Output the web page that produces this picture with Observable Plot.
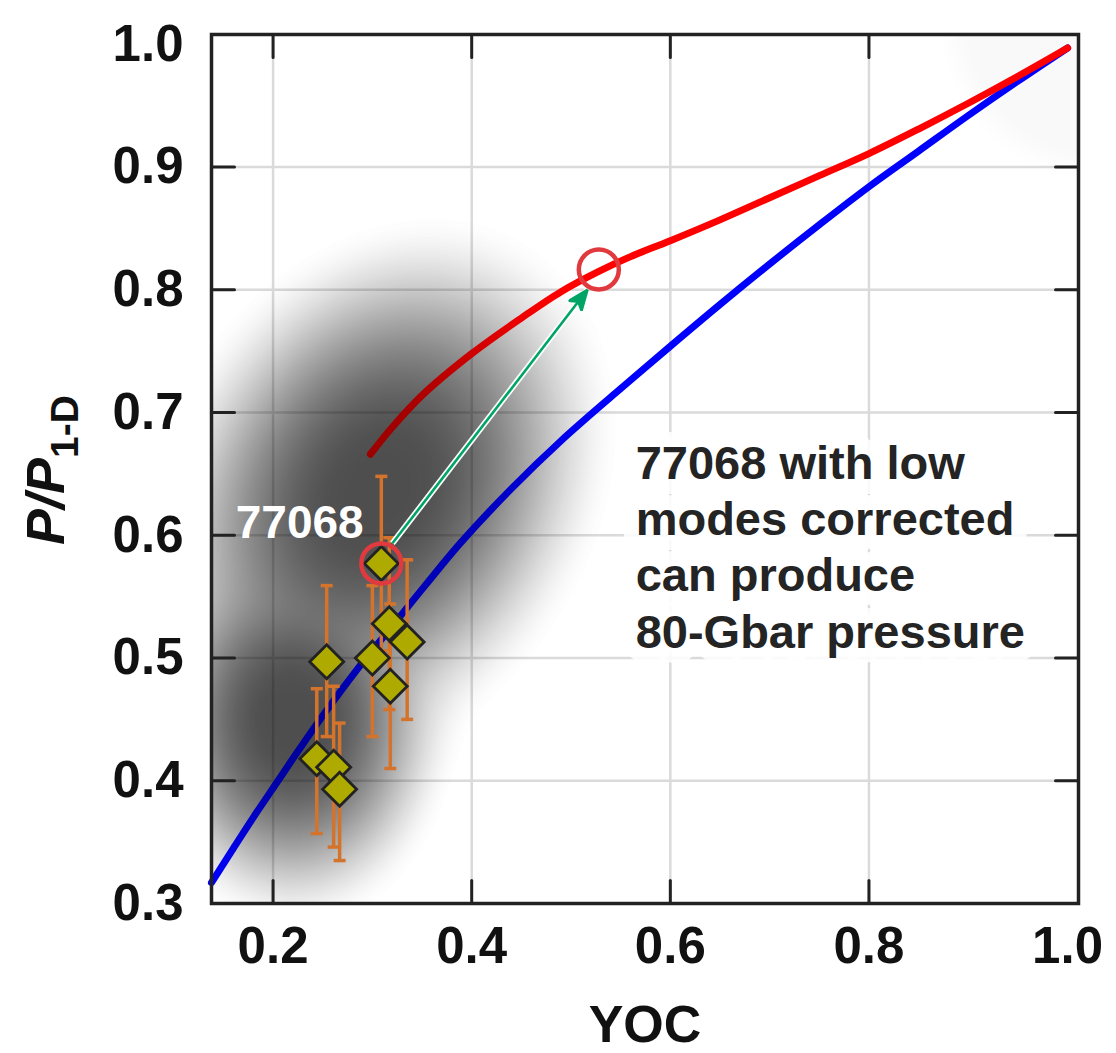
<!DOCTYPE html>
<html>
<head>
<meta charset="utf-8">
<script src="https://cdn.jsdelivr.net/npm/d3@7"></script>
<script src="https://cdn.jsdelivr.net/npm/@observablehq/plot@0.6"></script>
<style>
  body { margin: 0; background: #fff; }
</style>
</head>
<body>
<div id="chart"></div>
<script>
// ---------- data ----------
const xTickValues = [0.2, 0.4, 0.6, 0.8, 1.0];
const yTickValues = [0.3, 0.4, 0.5, 0.6, 0.7, 0.8, 0.9, 1.0];
const xGridValues = [0.2, 0.4, 0.6, 0.8];
const yGridValues = [0.4, 0.5, 0.6, 0.7, 0.8, 0.9];

// blue curve (1-D scaling)
const blueYOC = [0.138, 0.16, 0.18, 0.205, 0.225, 0.25, 0.283, 0.32, 0.354, 0.389, 0.44, 0.49, 0.545, 0.60, 0.65, 0.70, 0.75, 0.80, 0.85, 0.90, 0.95, 1.0];
const blueP   = [0.317, 0.345, 0.370, 0.400, 0.424, 0.453, 0.489, 0.526, 0.560, 0.594, 0.638, 0.677, 0.716, 0.754, 0.788, 0.821, 0.853, 0.884, 0.913, 0.942, 0.970, 0.997];

// red curve (low modes corrected)
const redYOC = [0.298, 0.32, 0.35, 0.40, 0.45, 0.49, 0.528, 0.56, 0.60, 0.65, 0.70, 0.75, 0.80, 0.85, 0.90, 0.95, 1.0];
const redP   = [0.666, 0.688, 0.714, 0.748, 0.777, 0.7985, 0.815, 0.827, 0.840, 0.857, 0.875, 0.893, 0.911, 0.931, 0.952, 0.974, 0.997];

// shots (diamonds with error bars); last one is 77068
const shotYOC = [0.317, 0.335, 0.254, 0.300, 0.318, 0.244, 0.261, 0.267, 0.309];
const shotP   = [0.528, 0.513, 0.497, 0.500, 0.477, 0.418, 0.411, 0.393, 0.577];
const shotLo  = [0.458, 0.450, 0.436, 0.436, 0.410, 0.357, 0.346, 0.335, 0.506];
const shotHi  = [0.598, 0.580, 0.559, 0.559, 0.544, 0.475, 0.477, 0.447, 0.648];

// highlighted points: 77068 and its corrected value on the red curve
const circleYOC = [0.309, 0.528];
const circleP   = [0.577, 0.8165];

// arrow from 77068 to the corrected point
const arrowFrom = [0.3202, 0.5935];
const arrowTo   = [0.5165, 0.800];

// annotation texts
const labelShot = "77068";
const labelShotPos = [0.1624, 0.6098];
const noteText = "77068 with low\nmodes corrected\ncan produce\n80-Gbar pressure";
const notePos = [0.5651, 0.6788];

// smoky simulation cloud: smooth union of two sheared ellipses
const cloudCX = [0.305, 0.22];
const cloudCY = [0.635, 0.45];
const cloudRX = [0.22, 0.155];
const cloudRY = [0.21, 0.16];
const cloudShear = [0.25, 0.0];
// faint glow at upper-right corner
const glowC = [1.03, 1.02];
const glowR = [0.165, 0.135];

// ---------- helpers ----------
const xDomain = [0.138, 1.011];
const yDomain = [0.3, 1.008];

const smooth = (e0, e1, v) => { const t = Math.max(0, Math.min(1, (v - e0) / (e1 - e0))); return t * t * (3 - 2 * t); };
function cloud(x, y) {
  const k = 0.1;
  let s = 0;
  for (let i = 0; i < cloudCX.length; i++) {
    const dy = y - cloudCY[i];
    const dx = x - cloudCX[i] - cloudShear[i] * dy;
    s += Math.exp(-Math.hypot(dx / cloudRX[i], dy / cloudRY[i]) / k);
  }
  const r = -k * Math.log(s);
  return 1 - smooth(0.15, 1.1, r);
}
function glow(x, y) {
  const r = Math.hypot((x - glowC[0]) / glowR[0], (y - glowC[1]) / glowR[1]);
  return 0.025 * (1 - smooth(0.75, 1.0, r));
}

const blue = blueYOC.map((x, i) => ({x, y: blueP[i]}));
const red = redYOC.map((x, i) => ({x, y: redP[i]}));
const shots = shotYOC.map((x, i) => ({x, p: shotP[i], lo: shotLo[i], hi: shotHi[i]}));
const circles = circleYOC.map((x, i) => ({x, y: circleP[i]}));

const tickShape = { draw(context, l) { context.moveTo(0, 0); context.lineTo(0, -l); } };
const capSymbol = { draw(context, size) { const r = Math.sqrt(size / Math.PI); context.moveTo(-r, 0); context.lineTo(r, 0); } };
const diamondSymbol = { draw(context, size) { const r = Math.sqrt(size / Math.PI); context.moveTo(0, -r); context.lineTo(r, 0); context.lineTo(0, r); context.lineTo(-r, 0); context.closePath(); } };
const headMarker = (color) => {
  const m = d3.create("svg:marker")
    .attr("viewBox", "-21 -9 22 18")
    .attr("markerUnits", "userSpaceOnUse")
    .attr("markerWidth", 22).attr("markerHeight", 18)
    .attr("refX", 0).attr("refY", 0)
    .attr("orient", "auto");
  m.append("path").attr("d", "M0,0L-20,-8L-15,0L-20,8Z").attr("fill", color);
  return m.node();
};

const orange = "#d4742c";
const font = "'Liberation Sans', Arial, Helvetica, sans-serif";

const plot = Plot.plot({
  width: 1116,
  height: 1053,
  marginTop: 34, marginRight: 38, marginBottom: 150, marginLeft: 211,
  x: {domain: xDomain},
  y: {domain: yDomain},
  opacity: {type: "identity"},
  style: {fontFamily: font, fontWeight: "bold", fontSize: "51px", color: "#111", background: "#fff"},
  marks: [
    Plot.ruleX(xGridValues, {stroke: "#dadada", strokeWidth: 2.5}),
    Plot.ruleY(yGridValues, {stroke: "#dadada", strokeWidth: 2.5}),
    Plot.raster({x1: xDomain[0], x2: xDomain[1], y1: yDomain[0], y2: yDomain[1], fill: "black",
      fillOpacity: (x, y) => 0.5 * cloud(x, y) + glow(x, y), pixelSize: 1}),
    Plot.line(blue, {x: "x", y: "y", stroke: "#0000ff", strokeWidth: 7, curve: "catmull-rom"}),
    Plot.line(red, {x: "x", y: "y", stroke: "#ff0000", strokeWidth: 7, curve: "catmull-rom"}),
    Plot.raster({x1: xDomain[0], x2: xDomain[1], y1: yDomain[0], y2: yDomain[1], fill: "black",
      fillOpacity: (x, y) => 0.38 * cloud(x, y), pixelSize: 1}),
    Plot.text([noteText], {x: notePos[0], y: notePos[1], text: d => d, textAnchor: "start", lineAnchor: "top",
      lineHeight: 1.2, fontSize: 47, fontWeight: "bold", fill: "#242424", stroke: "white", strokeWidth: 30, strokeOpacity: 0.9}),
    Plot.ruleX(shots, {x: "x", y1: "lo", y2: "hi", stroke: orange, strokeWidth: 3.5}),
    Plot.dot(shots, {x: "x", y: "lo", symbol: capSymbol, r: 6, fill: "none", stroke: orange, strokeWidth: 3.5}),
    Plot.dot(shots, {x: "x", y: "hi", symbol: capSymbol, r: 6, fill: "none", stroke: orange, strokeWidth: 3.5}),
    Plot.dot(shots, {x: "x", y: "p", symbol: diamondSymbol, r: 17, fill: "#aeaa00", stroke: "#222", strokeWidth: 2.8}),
    Plot.link([0], {x1: arrowFrom[0], y1: arrowFrom[1], x2: arrowTo[0], y2: arrowTo[1], stroke: "white", strokeWidth: 6}),
    Plot.link([0], {x1: arrowFrom[0], y1: arrowFrom[1], x2: arrowTo[0], y2: arrowTo[1], stroke: "#00a464", strokeWidth: 2.6, markerEnd: headMarker}),
    Plot.dot(circles, {x: "x", y: "y", r: 20, fill: "none", stroke: "#e03a3e", strokeWidth: 4.5}),
    Plot.text([labelShot], {x: labelShotPos[0], y: labelShotPos[1], text: d => d, textAnchor: "start", lineAnchor: "middle",
      fontSize: 46, fontWeight: "bold", fill: "white"}),
    Plot.frame({stroke: "#222", strokeWidth: 3.5}),
    Plot.vector(xGridValues, {x: d => d, y: yDomain[0], length: 23, rotate: 0, anchor: "start", shape: tickShape, stroke: "#222", strokeWidth: 3}),
    Plot.vector(xGridValues, {x: d => d, y: yDomain[1], length: 23, rotate: 180, anchor: "start", shape: tickShape, stroke: "#222", strokeWidth: 3}),
    Plot.vector(yGridValues, {y: d => d, x: xDomain[0], length: 23, rotate: 90, anchor: "start", shape: tickShape, stroke: "#222", strokeWidth: 3}),
    Plot.vector(yGridValues, {y: d => d, x: xDomain[1], length: 23, rotate: -90, anchor: "start", shape: tickShape, stroke: "#222", strokeWidth: 3}),
    Plot.axisX(xTickValues, {anchor: "bottom", tickSize: 0, tickPadding: 23, fontSize: 51, fontWeight: "bold", tickFormat: d => d.toFixed(1), label: null}),
    Plot.axisY(yTickValues, {anchor: "left", tickSize: 0, tickPadding: 28, fontSize: 51, fontWeight: "bold", tickFormat: d => d.toFixed(1), label: null}),
    Plot.text(["YOC"], {frameAnchor: "bottom", text: d => d, lineAnchor: "bottom", dy: 138, fontSize: 52, fontWeight: "bold", fill: "#111"})
  ]
});

// y-axis title with italic P and subscript
const t = d3.select(plot).append("text")
  .attr("transform", "translate(64,470) rotate(-90)")
  .attr("text-anchor", "middle")
  .attr("font-size", 54)
  .attr("font-weight", "bold")
  .attr("fill", "#111");
t.append("tspan").attr("font-style", "italic").text("P/P");
t.append("tspan").attr("font-size", 39).attr("dy", 14).text("1-D");

document.getElementById("chart").appendChild(plot);
</script>
</body>
</html>
